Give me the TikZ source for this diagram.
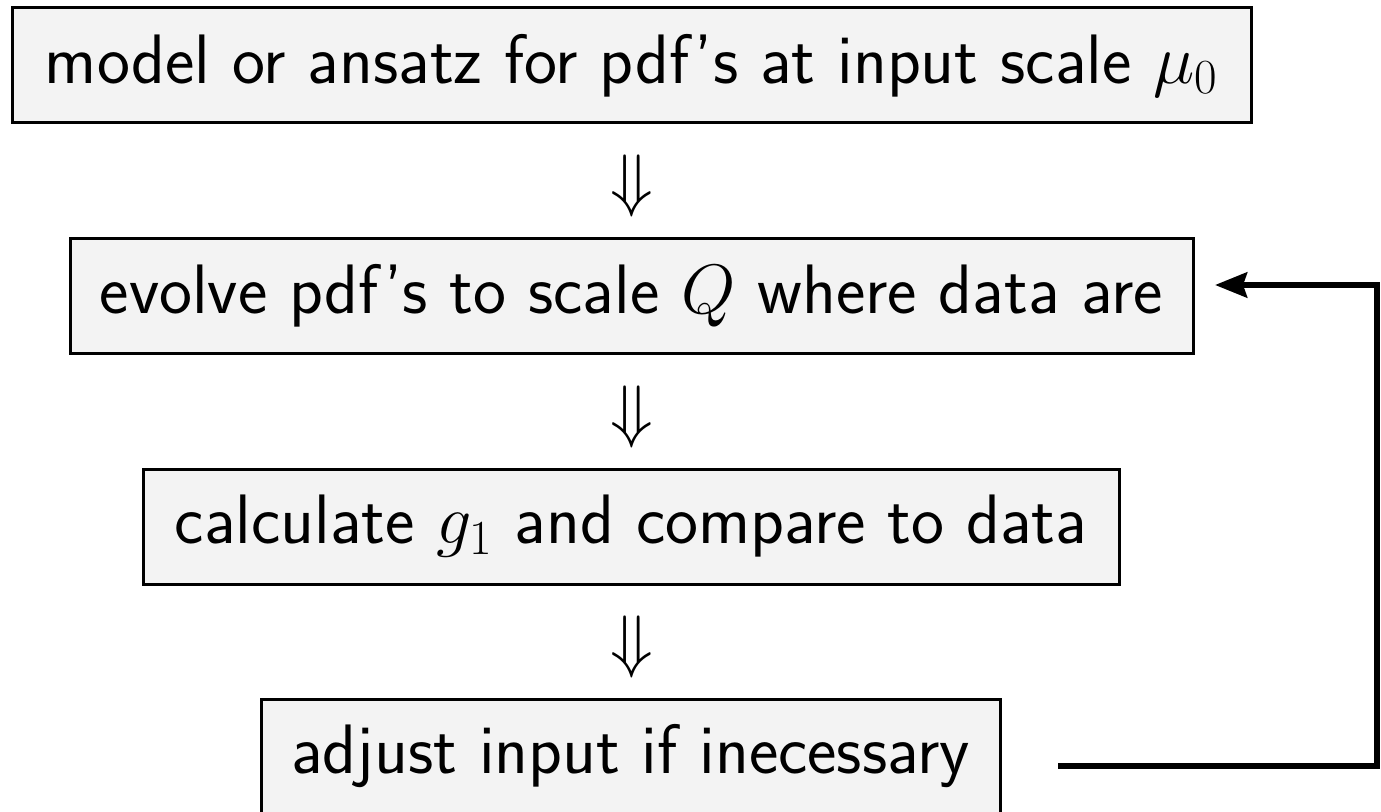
\RequirePackage{fix-cm}
\documentclass[tikz,border=0pt]{standalone}
\usepackage{fontspec}
\usetikzlibrary{arrows.meta}

\begin{document}
\begin{tikzpicture}[
    x=0.5pt, y=-0.5pt,
    stepbox/.style={draw=black, line width=1.5pt, fill=boxgray,
      minimum height=57.5pt, inner sep=0pt,
      font=\sffamily\fontsize{35}{42}\selectfont},
    implies/.style={inner sep=0pt, font=\fontsize{35}{42}\selectfont},
    feedback/.style={line width=3pt, -{Stealth[length=16pt, width=12.5pt, inset=2pt]}}
  ]
  \definecolor{boxgray}{HTML}{F3F3F3}
  \useasboundingbox (0,0) rectangle (1381,812);

  % the four stages of the fit
  \node[stepbox, minimum width=619.5pt] (model) at (631.5,65.5)
    {model or ansatz for pdf's at input scale $\mu_0$};
  \node[stepbox, minimum width=561.5pt] (evolve) at (631.5,296)
    {evolve pdf's to scale $Q$ where data are};
  \node[stepbox, minimum width=488pt] (calc) at (631,526.5)
    {calculate $g_1$ and compare to data};
  \node[stepbox, minimum width=369.5pt] (adjust) at (630.5,756.5)
    {adjust input if inecessary};

  % downward implication signs between the stages
  \node[implies] (d1) at (632,186) {$\Downarrow$};
  \node[implies] (d2) at (632,417) {$\Downarrow$};
  \node[implies] (d3) at (632,647) {$\Downarrow$};

  % loop back from the adjustment to the evolution step
  \coordinate (fbstart) at (1058,766);
  \coordinate (fbcornerlow) at (1377,766);
  \coordinate (fbcornerhigh) at (1377,285);
  \coordinate (fbend) at (1215,285);
  \draw[feedback] (fbstart) -- (fbcornerlow) -- (fbcornerhigh) -- (fbend);
\end{tikzpicture}
\end{document}
